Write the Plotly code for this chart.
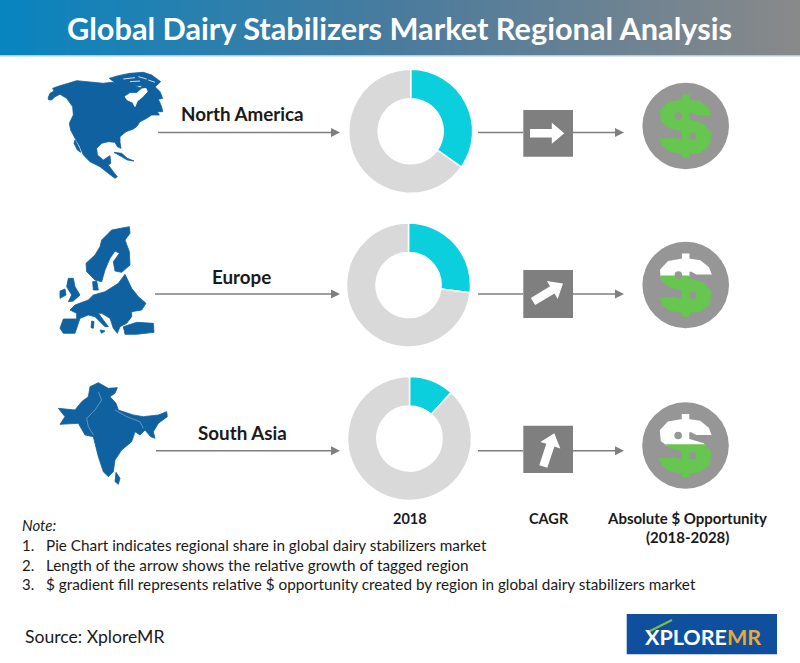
import plotly.graph_objects as go

W, H = 800, 663

# ---------- data ----------
regions = ["North America", "Europe", "South Asia"]
share_2018 = [34.8, 27.0, 11.7]
dollar_fill_share = [100, 64, 51]
column_labels = ["2018", "CAGR", "Absolute $ Opportunity", "(2018-2028)"]
notes = [
    "Pie Chart indicates regional share in global dairy stabilizers market",
    "Length of the arrow shows the relative growth of tagged region",
    "$ gradient fill represents relative $ opportunity created by region in global dairy stabilizers market",
]
title_text = "Global Dairy Stabilizers Market Regional Analysis"
source_text = "Source: XploreMR"

# ---------- layout geometry (pixels) ----------
pie_centres = [(410.7, 131.3), (408.5, 285), (409.5, 438.5)]
pie_r = 62
row_line_y = [132.5, 294, 450.7]
lab_y = [114, 277, 433]
lab_x = [242, 241, 242]
line_x0 = [158, 155, 156]
box_y = [(110, 156.7), (270, 318), (425.7, 473)]
circle_c = [(685.7, 126), (685.7, 285), (685.5, 445.5)]
arrow_dirs = [((530, 133.3), (564.3, 133.3)), ((533, 301.5), (563, 283.5)), ((543.3, 466.5), (554.3, 433.3))]

BLUE = "#10619f"
GREY = "#7f7f7f"
shapes, annos, map_traces = [], [], []

def poly_path(pts):
    return "M" + "L".join(f"{x:.1f},{y:.1f}" for x, y in pts) + "Z"

def add_poly(pts, color, line=None):
    shapes.append(dict(type="path", xref="x", yref="y", path=poly_path(pts), fillcolor=color,
                       line=dict(width=0 if line is None else line, color=color), layer="above"))

def add_map(pts, color):
    xs = [p[0] for p in pts] + [pts[0][0]]
    ys = [p[1] for p in pts] + [pts[0][1]]
    map_traces.append(go.Scatter(x=xs, y=ys, mode="lines", fill="toself", fillcolor=color,
                                 line=dict(width=0.8, color=color, simplify=False), hoverinfo="skip", showlegend=False))

def crop(pts, ox, oy):
    return [(ox + a / 3, oy + b / 3) for a, b in pts]

def line(x0, y0, x1, y1, color=GREY, w=1.5):
    shapes.append(dict(type="line", xref="x", yref="y", x0=x0, y0=y0, x1=x1, y1=y1,
                       line=dict(color=color, width=w), layer="above"))

def head(x, y):
    add_poly([(x, y), (x - 9, y - 4.5), (x - 9, y + 4.5)], GREY)

def text(x, y, s, size, color="#1a1a1a", anchor="center", font="Lato", bold=False, italic=False):
    t = s
    if bold:
        t = f"<b>{t}</b>"
    if italic:
        t = f"<i>{t}</i>"
    annos.append(dict(x=x, y=y, xref="x", yref="y", text=t, showarrow=False, xanchor=anchor, yanchor="middle",
                      font=dict(family=font, size=size, color=color), borderpad=0))

# ---------- maps ----------
na_main = [(25,97),(30,85),(42,78),(38,70),(60,62),(85,55),(110,47),(150,51),(190,55),(215,52),(240,58),(262,60),
           (285,62),(300,68),(318,55),(335,58),(345,65),(360,80),(368,100),(355,103),(365,125),(368,140),(352,140),
           (358,150),(335,150),(320,160),(300,170),(290,185),(280,192),(258,200),(240,215),(240,232),(243,250),
           (232,245),(225,232),(205,230),(185,235),(170,250),(172,270),(190,285),(210,272),(212,295),(205,300),
           (220,320),(232,335),(225,340),(205,325),(180,305),(150,290),(130,270),(120,245),(105,220),(92,195),
           (88,175),(100,150),(98,125),(80,100),(60,88),(45,95),(35,105),(25,104)]
na_islands = [(208,40),(235,32),(270,25),(310,22),(335,30),(362,50),(345,66),(315,62),(280,62),(250,60),(225,54)]
na_cuba = [(222,262),(245,265),(262,280),(282,288),(262,285),(245,275)]
na_baja = [(105,225),(118,250),(122,262),(112,255),(102,235)]
na_bay = [(255,95),(270,85),(290,85),(305,72),(318,70),(322,80),(305,98),(292,108),(285,125),(278,112),(262,105)]
for p in (na_main, na_islands, na_cuba, na_baja):
    add_map(crop(p, 40, 65), BLUE)
add_map(crop(na_bay, 40, 65), "#ffffff")
for a, b, c, d in [(250,42,285,38),(295,35,320,42),(270,50,300,48),(325,45,345,52)]:
    line(40 + a/3, 65 + b/3, 40 + c/3, 65 + d/3, "#ffffff", 0.8)

eu = [[(215,75),(245,45),(298,35),(300,55),(285,75),(298,110),(300,150),(275,172),(255,168),(250,140),(268,115),
       (255,108),(240,130),(225,165),(215,200),(195,195),(170,170),(168,145),(195,120),(210,95)],
      [(135,270),(175,255),(190,240),(225,230),(265,205),(285,178),(305,220),(325,245),(348,265),(335,285),(305,290),
       (305,305),(290,325),(270,335),(262,355),(250,340),(240,310),(215,295),(205,295),(235,335),(225,335),(195,305),
       (175,300),(150,310),(135,355),(100,355),(90,340),(100,312),(140,312),(140,295),(120,285)],
      [(115,190),(130,190),(135,215),(150,240),(130,258),(115,260),(125,240),(110,215)],
      [(90,228),(105,222),(108,240),(90,250)],
      [(280,335),(320,322),(370,325),(372,352),(320,358),(285,358)],
      [(210,345),(225,348),(215,355)],
      [(185,318),(192,320),(190,340),(183,338)],
      [(188,200),(200,198),(205,225),(190,225)]]
for p in eu:
    add_map(crop(p, 30, 215), BLUE)

sa = [[(180,515),(205,503),(235,520),(262,518),(255,535),(240,545),(258,565),(265,585),(310,600),(340,605),(385,600),
       (410,590),(412,605),(385,625),(370,650),(375,670),(362,665),(345,645),(330,660),(315,650),(305,680),(275,705),
       (255,735),(250,770),(235,785),(220,770),(205,725),(190,665),(165,660),(145,625),(90,628),(105,605),(85,580),
       (135,585),(155,560),(175,545)],
      [(258,772),(270,790),(265,808),(255,800)]]
for p in sa:
    add_map(crop(p, 30, 215), BLUE)
for seg in ([(205,530),(215,555),(195,585),(170,610),(175,635),(190,660)], [(255,585),(290,605),(330,620),(340,640)]):
    c = crop(seg, 30, 215)
    for (a, b), (d, e) in zip(c, c[1:]):
        line(a, b, d, e, "#6fa3cc", 0.8)

# ---------- connectors, arrows ----------
def clip(pts, yc, below):
    inside = (lambda p: p[1] >= yc) if below else (lambda p: p[1] <= yc)
    out = []
    for i, p in enumerate(pts):
        q = pts[(i + 1) % len(pts)]
        if inside(p):
            out.append(p)
        if inside(p) != inside(q):
            t = (yc - p[1]) / (q[1] - p[1])
            out.append((p[0] + t * (q[0] - p[0]), yc))
    return out

dollar = [(548,78),(566,78),(566,93),(600,98),(625,118),(632,136),(590,136),(575,128),(566,127),(566,152),(610,165),
          (632,190),(628,225),(600,248),(566,252),(566,262),(548,262),(548,252),(510,245),(490,230),(480,210),(525,208),
          (540,213),(548,214),(548,185),(510,175),(485,155),(482,125),(505,100),(548,93)]
dollar = [((a - 557) / 3, (b - 170) / 3) for a, b in dollar]
holes = [((535 - 557) / 3, (140 - 170) / 3), ((578 - 557) / 3, (201 - 170) / 3)]

def big_arrow(tail, tip, sw=8.5, hw=21, hl=12.5):
    dx, dy = tip[0] - tail[0], tip[1] - tail[1]
    n = (dx * dx + dy * dy) ** 0.5
    ux, uy = dx / n, dy / n
    px, py = -uy, ux
    bx, by = tip[0] - ux * hl, tip[1] - uy * hl
    return [(tail[0] + px * sw / 2, tail[1] + py * sw / 2), (bx + px * sw / 2, by + py * sw / 2),
            (bx + px * hw / 2, by + py * hw / 2), tip, (bx - px * hw / 2, by - py * hw / 2),
            (bx - px * sw / 2, by - py * sw / 2), (tail[0] - px * sw / 2, tail[1] - py * sw / 2)]

pies = []
for i, r in enumerate(regions):
    y = row_line_y[i]
    line(line_x0[i], y, 335, y); head(340, y)
    line(478, y, 523, y)
    line(573, y, 620, y); head(624, y)
    shapes.append(dict(type="rect", xref="x", yref="y", x0=523.3, x1=573, y0=box_y[i][0], y1=box_y[i][1],
                       fillcolor=GREY, line=dict(width=0), layer="above"))
    add_poly(big_arrow(*arrow_dirs[i]), "#ffffff")
    cx, cy = circle_c[i]
    shapes.append(dict(type="circle", xref="x", yref="y", x0=cx - 43.3, x1=cx + 43.3, y0=cy - 43.3, y1=cy + 43.3,
                       fillcolor="#969696", line=dict(width=0), layer="above"))
    pts = [(cx + a, cy + b) for a, b in dollar]
    top, bot = cy - 31, cy + 31
    yc = bot - (bot - top) * dollar_fill_share[i] / 100
    if dollar_fill_share[i] < 100:
        add_poly(clip(pts, yc, False), "#ffffff", line=1.5)
    add_poly(clip(pts, yc, True), "#66c64f", line=1.5)
    for hx, hy in holes:
        shapes.append(dict(type="circle", xref="x", yref="y", x0=cx + hx - 3.8, x1=cx + hx + 3.8,
                           y0=cy + hy - 3.8, y1=cy + hy + 3.8, fillcolor="#969696", line=dict(width=0), layer="above"))
    text(lab_x[i], lab_y[i] - 0.5, r, 18.8, bold=True)
    px, py = pie_centres[i]
    pies.append(go.Pie(values=[share_2018[i], 100 - share_2018[i]], labels=[r, "Rest of world"], hole=0.525, sort=False,
                       direction="clockwise", rotation=0, textinfo="none", hoverinfo="skip", showlegend=False,
                       marker=dict(colors=["#0bcfdc", "#d9d9d9"], line=dict(color="#ffffff", width=1.5)),
                       domain=dict(x=[(px - pie_r) / W, (px + pie_r) / W], y=[1 - (py + pie_r) / H, 1 - (py - pie_r) / H])))

# ---------- texts ----------
text(399, 28, title_text, 30.7, color="#ffffff", bold=True)
shapes.append(dict(type="rect", xref="x", yref="y", x0=0, x1=W, y0=55, y1=56.5, fillcolor="#a9cfe0", line=dict(width=0), layer="above"))
text(410, 518, column_labels[0], 14.5, bold=True)
text(549, 518, column_labels[1], 14.5, bold=True)
text(687, 518, column_labels[2], 15, bold=True)
text(687, 537, column_labels[3], 15, bold=True)
text(21, 525, "Note:", 15, anchor="left", italic=True)
for k, (n, yy) in enumerate(zip(notes, [545, 565, 584])):
    text(21, yy, f"{k + 1}.", 15, anchor="left")
    text(45, yy, n, 15.3, anchor="left")
text(24, 636, source_text, 17.6, anchor="left")

# logo
shapes.append(dict(type="rect", xref="x", yref="y", x0=626.7, x1=777, y0=614, y1=654.3, fillcolor="#0f4f9e", line=dict(width=0), layer="above"))
text(702.5, 637, '<span style="color:#ffffff">XPLORE</span><span style="color:#e8a93a">MR</span>', 21.5, bold=True)
line(648, 632, 656, 628, "#7cc143", 2)
line(656, 628, 672, 620, "#7cc143", 2)

banner_colors = [[0, "#0884bf"], [0.5, "#4a7b9d"], [1, "#898989"]]
banner_steps = list(range(161))
banner = go.Heatmap(z=[banner_steps[:-1]], x=[s * 5 for s in banner_steps], y=[0, 55], colorscale=banner_colors,
                    showscale=False, hoverinfo="skip")

fig = go.Figure([banner] + map_traces + pies)
fig.update_layout(
    width=W, height=H, margin=dict(l=0, r=0, t=0, b=0), paper_bgcolor="#ffffff", plot_bgcolor="#ffffff",
    xaxis=dict(range=[0, W], visible=False, domain=[0, 1], fixedrange=True),
    yaxis=dict(range=[H, 0], visible=False, domain=[0, 1], fixedrange=True),
    shapes=shapes, annotations=annos, hovermode=False, showlegend=False,
)
fig.write_html("out.html", config=dict(displayModeBar=False),
               post_script="document.body.style.margin='0';document.body.style.overflow='hidden';")
